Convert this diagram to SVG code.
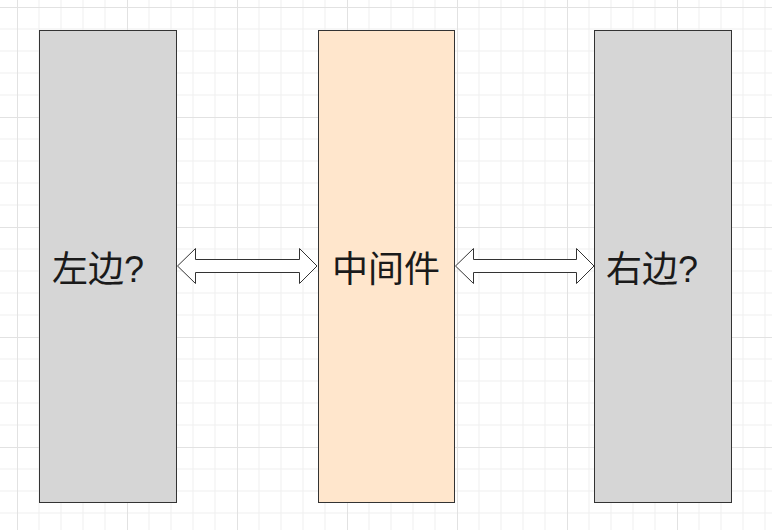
<svg xmlns="http://www.w3.org/2000/svg" width="772" height="530" viewBox="0 0 772 530">
<defs>
<pattern id="g" x="17" y="7" width="110" height="110" patternUnits="userSpaceOnUse">
<path d="M22 0V110M44 0V110M66 0V110M88 0V110M0 22H110M0 44H110M0 66H110M0 88H110" stroke="#efefef" stroke-width="1" fill="none"/>
<path d="M0.5 0V110M0 0.5H110" stroke="#e2e2e2" stroke-width="1" fill="none"/>
</pattern>
</defs>
<style>
.box{stroke:#333;stroke-width:1}
.t{font-family:"Liberation Sans","Noto Sans CJK SC",sans-serif;font-size:36px;fill:#1a1a1a;text-anchor:middle}
.arr{fill:#fff;stroke:#333;stroke-width:1}
</style>
<rect width="772" height="530" fill="#fff"/>
<rect width="772" height="530" fill="url(#g)"/>
<g id="connectors">
<path class="arr" d="M177.5 266 L195.5 248.5 V259.5 H299.5 V248.5 L317 266 L299.5 283.5 V272.5 H195.5 V283.5 Z"/>
<path class="arr" d="M455.5 266 L473.5 248.5 V259.5 H576.5 V248.5 L594 266 L576.5 283.5 V272.5 H473.5 V283.5 Z"/>
</g>
<g id="left"><rect class="box" x="39.5" y="30.5" width="137" height="472" fill="#d6d6d6"/><text class="t" x="98" y="282">左边?</text></g>
<g id="middle"><rect class="box" x="318.5" y="30.5" width="136" height="472" fill="#ffe6cc"/><text class="t" x="386" y="282">中间件</text></g>
<g id="right"><rect class="box" x="594.5" y="30.5" width="137" height="472" fill="#d6d6d6"/><text class="t" x="652" y="282">右边?</text></g>
</svg>
